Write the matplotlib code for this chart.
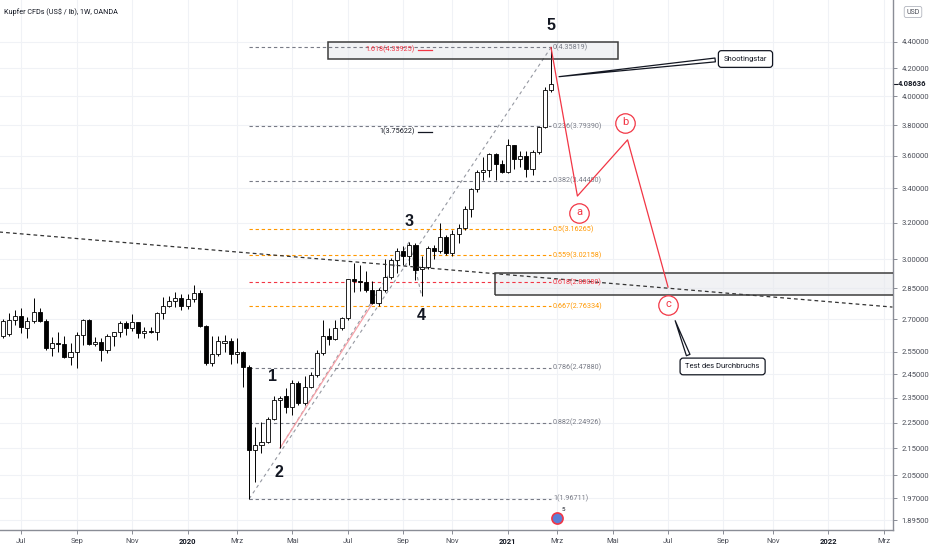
import numpy as np
import pandas as pd
import matplotlib
matplotlib.use("Agg")
import matplotlib.pyplot as plt
import matplotlib.dates as mdates
import matplotlib.transforms as mtransforms
from matplotlib.patches import Rectangle
from matplotlib.ticker import FixedLocator, FixedFormatter, NullLocator

plt.rcParams['font.family'] = ['Roboto', 'DejaVu Sans']

# weekly candles of Kupfer CFD (OANDA), first bar in week of 2019-06-10
first_week = '2019-06-10'
opens = [2.62, 2.63, 2.696, 2.715, 2.656, 2.690, 2.736, 2.690, 2.565, 2.591,
         2.585, 2.525, 2.550, 2.626, 2.696, 2.585, 2.595, 2.558, 2.619, 2.638,
         2.682, 2.656, 2.687, 2.634, 2.643, 2.641, 2.728, 2.763, 2.788, 2.804,
         2.763, 2.796, 2.829, 2.669, 2.498, 2.538, 2.591, 2.596, 2.537, 2.549,
         2.483, 2.144, 2.163, 2.176, 2.264, 2.342, 2.356, 2.314, 2.411, 2.328,
         2.397, 2.448, 2.545, 2.619, 2.608, 2.660, 2.704, 2.896, 2.888, 2.881,
         2.844, 2.776, 2.844, 2.906, 2.997, 3.042, 3.016, 3.077, 2.948, 2.958,
         3.060, 3.042, 3.120, 3.033, 3.135, 3.170, 3.277, 3.394, 3.500, 3.510,
         3.610, 3.550, 3.500, 3.670, 3.580, 3.600, 3.520, 3.625, 3.787, 4.043]
highs = [2.70, 2.73, 2.744, 2.752, 2.712, 2.801, 2.752, 2.700, 2.617, 2.640,
         2.619, 2.588, 2.641, 2.700, 2.700, 2.617, 2.612, 2.631, 2.641, 2.690,
         2.690, 2.725, 2.688, 2.665, 2.665, 2.736, 2.809, 2.813, 2.834, 2.821,
         2.822, 2.867, 2.842, 2.672, 2.619, 2.622, 2.626, 2.612, 2.613, 2.553,
         2.490, 2.233, 2.254, 2.273, 2.356, 2.360, 2.390, 2.426, 2.419, 2.444,
         2.460, 2.558, 2.696, 2.656, 2.696, 2.712, 2.900, 2.980, 2.970, 2.940,
         2.890, 2.850, 3.000, 3.006, 3.060, 3.070, 3.095, 3.088, 3.020, 3.070,
         3.077, 3.200, 3.130, 3.160, 3.190, 3.293, 3.400, 3.512, 3.590, 3.620,
         3.620, 3.574, 3.710, 3.670, 3.630, 3.630, 3.640, 3.790, 4.063, 4.35819]
lows = [2.61, 2.62, 2.672, 2.634, 2.613, 2.682, 2.685, 2.558, 2.528, 2.550,
        2.521, 2.491, 2.477, 2.580, 2.580, 2.573, 2.506, 2.543, 2.573, 2.617,
        2.626, 2.645, 2.612, 2.612, 2.634, 2.601, 2.701, 2.757, 2.757, 2.744,
        2.749, 2.785, 2.665, 2.491, 2.487, 2.528, 2.550, 2.495, 2.500, 2.397,
        1.96711, 2.026, 2.132, 2.170, 2.261, 2.151, 2.287, 2.280, 2.321, 2.321,
        2.390, 2.440, 2.535, 2.580, 2.603, 2.649, 2.696, 2.830, 2.835, 2.830,
        2.771, 2.762, 2.830, 2.900, 2.930, 2.970, 2.970, 2.893, 2.813, 2.950,
        3.000, 3.033, 3.023, 3.016, 3.090, 3.160, 3.234, 3.380, 3.450, 3.470,
        3.450, 3.490, 3.490, 3.520, 3.530, 3.470, 3.480, 3.610, 3.780, 4.030]
closes = [2.69, 2.695, 2.715, 2.662, 2.690, 2.736, 2.690, 2.565, 2.591, 2.585,
          2.525, 2.550, 2.626, 2.696, 2.584, 2.595, 2.558, 2.619, 2.638, 2.682,
          2.656, 2.687, 2.634, 2.645, 2.640, 2.728, 2.763, 2.788, 2.804, 2.763,
          2.796, 2.829, 2.669, 2.498, 2.538, 2.596, 2.596, 2.537, 2.548, 2.483,
          2.144, 2.163, 2.176, 2.264, 2.342, 2.351, 2.314, 2.411, 2.328, 2.397,
          2.448, 2.545, 2.619, 2.608, 2.660, 2.704, 2.896, 2.888, 2.881, 2.844,
          2.776, 2.844, 2.906, 2.997, 3.042, 3.016, 3.077, 2.944, 2.958, 3.060,
          3.042, 3.120, 3.033, 3.135, 3.170, 3.277, 3.394, 3.500, 3.510, 3.610,
          3.550, 3.500, 3.670, 3.580, 3.600, 3.520, 3.625, 3.787, 4.045, 4.08636]
last_price = 4.08636

# fibonacci retracement between the March 2020 low and the Feb 2021 high
fib_ratios = ['0', '0.236', '0.382', '0.5', '0.559', '0.618', '0.667', '0.786', '0.882', '1']
fib_prices = [4.35819, 3.79390, 3.44480, 3.16265, 3.02158, 2.88080, 2.76334, 2.47880, 2.24926, 1.96711]
fib_colors = ['#787b86', '#787b86', '#787b86', '#ff9800', '#ff9800', '#f23645', '#ff9800',
              '#787b86', '#787b86', '#787b86']
fib_start, fib_end = '2020-03-16', '2021-02-22'

# trend based extension: wave 2 low -> wave 3 high -> wave 4 low
ext_dates = ['2020-04-20', '2020-09-14', '2020-09-28']
ext_points = [2.151, 3.095, 2.81281]
ext_labels = ['1.618(4.33925)', '1(3.75622)']
ext_prices = [4.33925, 3.75622]
ext_colors = ['#f23645', '#131722']

# elliott waves and the expected abc correction
wave_labels = ['1', '2', '3', '4', '5']
wave_dates = ['2020-04-12', '2020-04-19', '2020-09-14', '2020-09-27', '2021-02-22']
wave_prices = [2.44, 2.062, 3.205, 2.716, 4.526]
abc_dates = ['2021-02-22', '2021-03-24', '2021-05-20', '2021-07-05']
abc_prices = [4.35819, 3.354, 3.703, 2.857]
abc_labels = ['a', 'b', 'c']
abc_label_dates = ['2021-03-26', '2021-05-17', '2021-07-05']
abc_label_prices = [3.255, 3.815, 2.768]

# trend lines
trend_dates = ['2019-06-06', '2022-03-17']
trend_prices = [3.148, 2.758]
wave_line_dates = ['2020-04-20', '2020-08-03']
wave_line_prices = [2.151, 2.775]

# zones
zone_top = ('2020-06-14', '2021-05-09', 4.270, 4.40)
zone_break = ('2020-12-20', '2022-06-01', 2.817, 2.929)

month_names = {3: 'Mrz', 5: 'Mai', 7: 'Jul', 9: 'Sep', 11: 'Nov'}
price_ticks = [4.4, 4.2, 4.0, 3.8, 3.6, 3.4, 3.2, 3.0, 2.85, 2.7, 2.55, 2.45,
               2.35, 2.25, 2.15, 2.05, 1.97, 1.895]

dn = mdates.date2num
dates = pd.date_range(first_week, periods=len(opens), freq='W-MON')
x = dn(dates)
o, h, l, c = map(np.array, (opens, highs, lows, closes))

fig = plt.figure(figsize=(9.32, 5.5), dpi=100)
ax = fig.add_axes([0, 20 / 550, 893 / 932, 530 / 550])
ax.set_yscale('log')

# one week = ~6.16 px, last bar sits at 551 px
px_day = 0.88
x_last = x[-1]
ax.set_xlim(x_last - 551 / px_day, x_last + (893 - 551) / px_day)
ax.set_ylim(1.862, 4.738)

# grid
tick_months = pd.date_range('2019-07-01', '2022-03-01', freq='2MS')
tick_pos = [dn(pd.offsets.Week(weekday=0).rollforward(d)) for d in tick_months]
tick_lab = [str(d.year) if d.month == 1 else month_names[d.month] for d in tick_months]
for tp in tick_pos:
    ax.axvline(tp, color='#f0f2f6', lw=0.8, zorder=0)
for pt in price_ticks:
    ax.axhline(pt, color='#f0f2f6', lw=0.8, zorder=0)

# zones
for d0, d1, p0, p1 in (zone_top, zone_break):
    ax.add_patch(Rectangle((dn(pd.Timestamp(d0)), p0), dn(pd.Timestamp(d1)) - dn(pd.Timestamp(d0)),
                           p1 - p0, facecolor='#e6e8ec', alpha=0.55, edgecolor='none', zorder=1))
    ax.add_patch(Rectangle((dn(pd.Timestamp(d0)), p0), dn(pd.Timestamp(d1)) - dn(pd.Timestamp(d0)),
                           p1 - p0, facecolor='none', edgecolor='#3d3d3d', lw=1.1, zorder=6))

# fib levels
f0, f1 = dn(pd.Timestamp(fib_start)), dn(pd.Timestamp(fib_end))
for r, p, col in zip(fib_ratios, fib_prices, fib_colors):
    ax.plot([f0, f1], [p, p], color=col, lw=0.8, ls=(0, (3, 2.5)), zorder=2)
    ax.text(f1 + 2 / px_day, p, f'{r}({p:.5f})', color=col, fontsize=5.2,
            va='center', ha='left', zorder=7)
ax.plot([f0, f1], [fib_prices[-1], fib_prices[0]], color='#9598a1', lw=0.8,
        ls=(0, (3, 3)), zorder=2)

# extension
ax.plot(dn(pd.to_datetime(ext_dates)), ext_points, color='#9598a1', lw=0.8,
        ls=(0, (3, 3)), zorder=2)
e0 = dn(pd.Timestamp(ext_dates[-1]))
for lab, p, col in zip(ext_labels, ext_prices, ext_colors):
    ax.plot([e0 - 4 / px_day, e0 + 10 / px_day], [p, p], color=col, lw=0.9, zorder=7)
    ax.text(e0 - 7 / px_day, p, lab, color=col, fontsize=5.2, va='center', ha='right', zorder=7)

# trend lines
ax.plot(dn(pd.to_datetime(trend_dates)), trend_prices, color='#333333', lw=0.9,
        ls=(0, (3, 2.5)), zorder=5)
ax.plot(dn(pd.to_datetime(wave_line_dates)), wave_line_prices, color='#f7a1a8', lw=0.9, zorder=2)

# candles
up = c >= o
b_lo = np.minimum(o, c)
b_hi = np.maximum(np.maximum(o, c), b_lo * 1.002)
ax.vlines(x, l, h, color='#000000', lw=0.7, zorder=3)
ax.bar(x, b_hi - b_lo, bottom=b_lo, width=4.6, color=np.where(up, 'white', 'black'),
       edgecolor='black', linewidth=0.6, zorder=4)

# waves
for lab, d, p in zip(wave_labels, wave_dates, wave_prices):
    ax.text(dn(pd.Timestamp(d)), p, lab, fontsize=11.5, fontweight='bold', color='#131722',
            ha='center', va='center', zorder=8, family='Liberation Sans')
ax.plot(dn(pd.to_datetime(abc_dates)), abc_prices, color='#f23645', lw=0.9, zorder=7)
for lab, d, p in zip(abc_labels, abc_label_dates, abc_label_prices):
    ax.plot(dn(pd.Timestamp(d)), p, 'o', ms=14, mfc='white', mec='#f23645', mew=0.9, zorder=8)
    ax.text(dn(pd.Timestamp(d)), p * 1.002, lab, fontsize=8, color='#f23645',
            ha='center', va='center', zorder=9)

# callouts
ax.annotate('Shootingstar', xy=(dn(pd.Timestamp('2021-02-28')), 4.137),
            xytext=(dn(pd.Timestamp('2021-10-01')), 4.27), fontsize=5.5, color='#131722',
            ha='center', va='center', zorder=9,
            bbox=dict(boxstyle='round,pad=0.7,rounding_size=0.4', fc='white', ec='#131722', lw=0.9),
            arrowprops=dict(arrowstyle='wedge,tail_width=0.5,shrink_factor=0.5', fc='white',
                            ec='#131722', lw=0.9, relpos=(0, 0.5)))
ax.annotate('Test des Durchbruchs', xy=(dn(pd.Timestamp('2021-07-12')), 2.705),
            xytext=(dn(pd.Timestamp('2021-09-05')), 2.484), fontsize=5.5, color='#131722',
            ha='center', va='center', zorder=9,
            bbox=dict(boxstyle='round,pad=0.7,rounding_size=0.4', fc='white', ec='#131722', lw=0.9),
            arrowprops=dict(arrowstyle='wedge,tail_width=0.5,shrink_factor=0.5', fc='white',
                            ec='#131722', lw=0.9, relpos=(0.08, 1)))

# event marker on the time line
ev = dn(pd.Timestamp('2021-03-01'))
ax.plot(ev, 1.902, 'o', ms=8, mfc='#5b7fd6', mec='#f23645', mew=1.2, zorder=8, clip_on=False)
ax.text(ev + 4 / px_day, 1.925, '5', fontsize=4.5, color='#131722', zorder=9)

# axes styling
for s in ('top', 'left'):
    ax.spines[s].set_visible(False)
for s in ('right', 'bottom'):
    ax.spines[s].set_color('#8a8d96')
    ax.spines[s].set_linewidth(1.0)
ax.yaxis.tick_right()
ax.yaxis.set_major_locator(FixedLocator(price_ticks))
ax.yaxis.set_major_formatter(FixedFormatter([f'{p:.5f}' for p in price_ticks]))
ax.yaxis.set_minor_locator(NullLocator())
ax.xaxis.set_major_locator(FixedLocator(tick_pos))
ax.xaxis.set_major_formatter(FixedFormatter(tick_lab))
ax.tick_params(axis='both', length=3, width=0.7, color='#8a8d96', labelsize=5.5,
               labelcolor='#4a4d57', pad=3)
for t, lab in zip(ax.get_xticklabels(), tick_lab):
    if lab.isdigit():
        t.set_color('#131722')
        t.set_fontweight('bold')

# last price
tr = mtransforms.blended_transform_factory(ax.transAxes, ax.transData)
ax.text(1.005, last_price, f'{last_price:.5f}', transform=tr, fontsize=5.5, color='#131722',
        fontweight='bold', va='center', ha='left', clip_on=False)
ax.plot([1.0, 1.004], [last_price, last_price], transform=tr, color='#131722', lw=0.8,
        clip_on=False)

ax.text(0.004, 0.977, 'Kupfer CFDs (US$ / lb), 1W, OANDA', transform=ax.transAxes,
        fontsize=5.2, color='#131722', va='center', ha='left')
fig.text(913 / 932, 1 - 12 / 550, 'USD', fontsize=5, color='#4a4d57', ha='center', va='center',
         bbox=dict(boxstyle='round,pad=0.3', fc='white', ec='#b2b5be', lw=0.6))

fig.savefig('out.png', dpi=100)
